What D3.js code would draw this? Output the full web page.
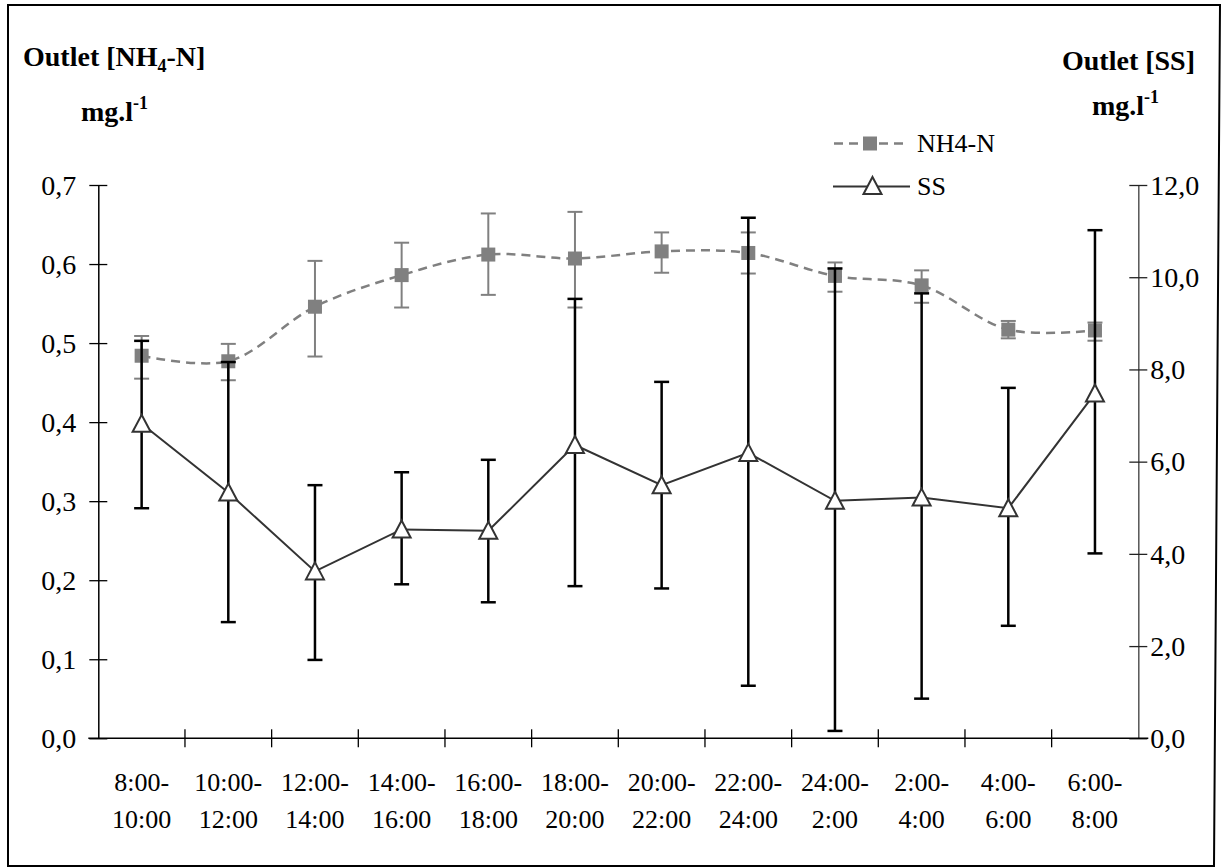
<!DOCTYPE html>
<html>
<head>
<meta charset="utf-8">
<script src="https://cdn.jsdelivr.net/npm/d3@7"></script>
<style>
  body { margin: 0; background: #fff; }
  svg text { font-family: "Liberation Serif", "Times New Roman", serif; fill: #000; }
</style>
</head>
<body>
<div id="chart"></div>
<script>
// time windows (two-line labels)
const categories = ["8:00-|10:00", "10:00-|12:00", "12:00-|14:00", "14:00-|16:00", "16:00-|18:00", "18:00-|20:00",
    "20:00-|22:00", "22:00-|24:00", "24:00-|2:00", "2:00-|4:00", "4:00-|6:00", "6:00-|8:00"];

// NH4-N outlet, mg/l (left axis)
const nh4Mean  = [0.484, 0.477, 0.546, 0.586, 0.612, 0.607, 0.616, 0.614, 0.585, 0.573, 0.517, 0.516];
const nh4Upper = [0.509, 0.499, 0.604, 0.627, 0.664, 0.666, 0.640, 0.640, 0.602, 0.592, 0.528, 0.526];
const nh4Lower = [0.455, 0.453, 0.483, 0.545, 0.561, 0.545, 0.589, 0.588, 0.565, 0.551, 0.506, 0.503];

// SS outlet, mg/l (right axis)
const ssMean  = [6.82, 5.33, 3.62, 4.53, 4.50, 6.36, 5.49, 6.19, 5.15, 5.22, 4.99, 7.48];
const ssUpper = [8.62, 8.16, 5.49, 5.77, 6.04, 9.53, 7.73, 11.29, 10.19, 9.65, 7.60, 11.02];
const ssLower = [4.99, 2.52, 1.70, 3.34, 2.95, 3.30, 3.25, 1.14, 0.16, 0.86, 2.44, 4.01];

const leftTicks = [0, 0.1, 0.2, 0.3, 0.4, 0.5, 0.6, 0.7];
const rightTicks = [0, 2, 4, 6, 8, 10, 12];

const W = 1226, H = 867;
const plot = { left: 98.3, right: 1138.3, top: 185, bottom: 738.3 };
const fmt1 = v => d3.format(".1f")(v).replace(".", ",");

const svg = d3.select("#chart").append("svg")
    .attr("width", W)
    .attr("height", H);

// outer frame
svg.append("path")
    .attr("d", "M8,5 L1220,5 L1214,866 L8,866 Z")
    .attr("fill", "none")
    .attr("stroke", "#000")
    .attr("stroke-width", 2);

const x = d3.scaleBand().domain(categories).range([plot.left, plot.right]);
const yL = d3.scaleLinear().domain([0, 0.7]).range([plot.bottom, plot.top]);
const yR = d3.scaleLinear().domain([0, 12]).range([plot.bottom, plot.top]);
const cx = d => x(d) + x.bandwidth() / 2;

// left axis
const gL = svg.append("g")
    .attr("transform", `translate(${plot.left},0)`)
    .call(d3.axisLeft(yL).tickValues(leftTicks).tickFormat(fmt1).tickSize(0).tickPadding(22));
gL.select(".domain").attr("stroke", "#000").attr("stroke-width", 1.5);
gL.selectAll(".tick line").attr("x1", -9).attr("x2", 9).attr("stroke", "#000").attr("stroke-width", 1.3);
gL.selectAll(".tick text").style("font-size", "28px").attr("dy", "0.33em");

// right axis
const gR = svg.append("g")
    .attr("transform", `translate(${plot.right},0)`)
    .call(d3.axisRight(yR).tickValues(rightTicks).tickFormat(fmt1).tickSize(0).tickPadding(12));
gR.select(".domain").attr("stroke", "#555").attr("stroke-width", 1.5);
gR.selectAll(".tick line").attr("x1", -9).attr("x2", 9).attr("stroke", "#222").attr("stroke-width", 1.3);
gR.selectAll(".tick text").style("font-size", "28px").attr("dy", "0.33em");

// bottom axis: ticks at category boundaries
const gB = svg.append("g")
    .attr("transform", `translate(0,${plot.bottom})`);
gB.append("line")
    .attr("x1", plot.left - 10).attr("x2", plot.right + 10)
    .attr("stroke", "#000").attr("stroke-width", 1.5);
gB.selectAll("line.tk")
    .data(categories.slice(1))
    .enter().append("line")
    .attr("class", "tk")
    .attr("x1", d => x(d)).attr("x2", d => x(d))
    .attr("y1", -9).attr("y2", 9)
    .attr("stroke", "#000").attr("stroke-width", 1.3);
const lbl = gB.selectAll("text.cat")
    .data(categories)
    .enter().append("text")
    .attr("class", "cat")
    .attr("text-anchor", "middle")
    .style("font-size", "26px");
lbl.append("tspan").attr("x", d => cx(d)).attr("y", 53).text(d => d.split("|")[0]);
lbl.append("tspan").attr("x", d => cx(d)).attr("y", 90).text(d => d.split("|")[1]);

// NH4-N series
const nh4Color = "#808080";
const nh4Line = d3.line()
    .x((d, i) => cx(categories[i]))
    .y(d => yL(d))
    .curve(d3.curveCatmullRom.alpha(0.5));
svg.append("path")
    .attr("d", nh4Line(nh4Mean))
    .attr("fill", "none")
    .attr("stroke", nh4Color)
    .attr("stroke-width", 2.5)
    .attr("stroke-dasharray", "9,6");

const nh4Err = svg.append("g").attr("stroke", nh4Color).attr("stroke-width", 2);
categories.forEach((c, i) => {
    const xc = cx(c);
    nh4Err.append("line").attr("x1", xc).attr("x2", xc).attr("y1", yL(nh4Lower[i])).attr("y2", yL(nh4Upper[i]));
    [nh4Lower[i], nh4Upper[i]].forEach(v => {
        nh4Err.append("line").attr("x1", xc - 7.5).attr("x2", xc + 7.5).attr("y1", yL(v)).attr("y2", yL(v));
    });
});
svg.append("g").selectAll("rect")
    .data(nh4Mean)
    .enter().append("rect")
    .attr("x", (d, i) => cx(categories[i]) - 7)
    .attr("y", d => yL(d) - 7)
    .attr("width", 14).attr("height", 14)
    .attr("fill", nh4Color);

// SS series
const ssColor = "#333";
const ssLine = d3.line()
    .x((d, i) => cx(categories[i]))
    .y(d => yR(d));
svg.append("path")
    .attr("d", ssLine(ssMean))
    .attr("fill", "none")
    .attr("stroke", ssColor)
    .attr("stroke-width", 2);

const ssErr = svg.append("g").attr("stroke", "#000").attr("stroke-width", 2.5);
categories.forEach((c, i) => {
    const xc = cx(c);
    ssErr.append("line").attr("x1", xc).attr("x2", xc).attr("y1", yR(ssLower[i])).attr("y2", yR(ssUpper[i]));
    [ssLower[i], ssUpper[i]].forEach(v => {
        ssErr.append("line").attr("x1", xc - 7.5).attr("x2", xc + 7.5).attr("y1", yR(v)).attr("y2", yR(v));
    });
});
const tri = "M0,-9 L9,8 L-9,8 Z";
svg.append("g").selectAll("path")
    .data(ssMean)
    .enter().append("path")
    .attr("d", tri)
    .attr("transform", (d, i) => `translate(${cx(categories[i])},${yR(d)})`)
    .attr("fill", "#fff")
    .attr("stroke", ssColor)
    .attr("stroke-width", 2);

// legend
const leg = svg.append("g");
leg.append("line").attr("x1", 833).attr("x2", 907).attr("y1", 143.5).attr("y2", 143.5)
    .attr("stroke", nh4Color).attr("stroke-width", 2.5).attr("stroke-dasharray", "9,6").attr("stroke-dashoffset", -1);
leg.append("rect").attr("x", 863).attr("y", 136.5).attr("width", 14).attr("height", 14).attr("fill", nh4Color);
leg.append("text").attr("x", 917).attr("y", 152).style("font-size", "26px").text("NH4-N");
leg.append("line").attr("x1", 833).attr("x2", 910).attr("y1", 186.5).attr("y2", 186.5)
    .attr("stroke", ssColor).attr("stroke-width", 2);
leg.append("path").attr("d", tri).attr("transform", "translate(872.5,186)")
    .attr("fill", "#fff").attr("stroke", ssColor).attr("stroke-width", 2);
leg.append("text").attr("x", 917).attr("y", 195).style("font-size", "26px").text("SS");

// axis titles
const t1 = svg.append("text").attr("x", 23).attr("y", 66).style("font-size", "28px").style("font-weight", "bold");
t1.append("tspan").text("Outlet [NH");
t1.append("tspan").attr("dy", 6).style("font-size", "18px").text("4");
t1.append("tspan").attr("dy", -6).text("-N]");
const t2 = svg.append("text").attr("x", 81).attr("y", 121).style("font-size", "28px").style("font-weight", "bold");
t2.append("tspan").text("mg.l");
t2.append("tspan").attr("dy", -12).style("font-size", "18px").text("-1");

svg.append("text").attr("x", 1062).attr("y", 70).style("font-size", "28px").style("font-weight", "bold")
    .text("Outlet [SS]");
const t4 = svg.append("text").attr("x", 1092).attr("y", 115).style("font-size", "28px").style("font-weight", "bold");
t4.append("tspan").text("mg.l");
t4.append("tspan").attr("dy", -12).style("font-size", "18px").text("-1");
</script>
</body>
</html>
